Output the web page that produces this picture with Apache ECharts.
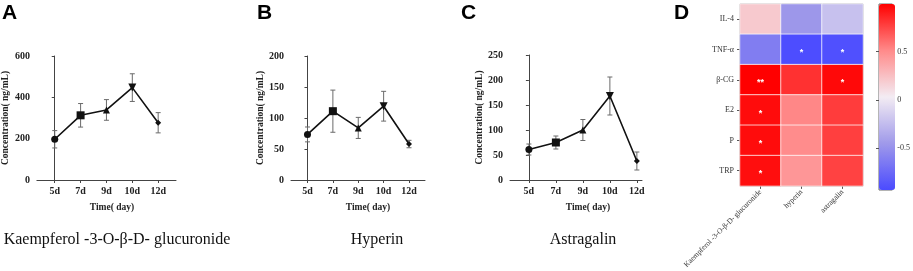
<!DOCTYPE html>
<html>
<head>
<meta charset="utf-8">
<script src="https://cdn.jsdelivr.net/npm/echarts@6/dist/echarts.min.js"></script>
<style>html,body{margin:0;padding:0;background:#fff}#c{width:913px;height:271px}</style>
</head>
<body>
<div id="c"></div>
<script>
// ---------- data ----------
const categories = ['5d', '7d', '9d', '10d', '12d'];
const kaempMean = [197, 313, 339, 447, 277];
const kaempErr  = [42, 57, 50, 67, 49];
const hyperMean = [73.5, 111, 84, 119, 58];
const hyperErr  = [12, 34, 17, 24, 6];
const astraMean = [61, 75, 100, 168, 38];
const astraErr  = [11, 13, 21, 38, 18];
const yTicksA = [0, 600, 200];
const yTicksB = [0, 200, 50];
const yTicksC = [0, 250, 50];
const panelTitles = ['Kaempferol -3-O-β-D- glucuronide', 'Hyperin', 'Astragalin'];

const hmCompounds = ['Kaempferol -3-O-β-D- glucuronide', 'hyperin', 'astragalin'];
const hmIndicators = ['IL-4', 'TNF-α', 'β-CG', 'E2', 'P', 'TRP'];
const hmValues = [
  [0.20, -0.46, -0.22],
  [-0.62, -0.92, -0.90],
  [0.99, 0.82, 0.96],
  [0.95, 0.52, 0.78],
  [0.95, 0.50, 0.77],
  [0.94, 0.45, 0.76]
];
const hmSig = [
  ['', '', ''],
  ['', '*', '*'],
  ['**', '', '*'],
  ['*', '', ''],
  ['*', '', ''],
  ['*', '', '']
];
const cbRange = [-0.93, 0.99];
const cbTicks = [-0.5, 0, 0.5];

// ---------- helpers ----------
const serif = '"Liberation Serif","Times New Roman",serif';
const symbols = ['circle', 'rect', 'triangle', 'triangle', 'diamond'];
const symRot = [0, 0, 0, 180, 0];
const symSize = [7, 8, 7, 8, 6];
const idx = categories.map((_, i) => i);

function errRender(params, api) {
  const x = api.value(0), lo = api.value(1), hi = api.value(2);
  const a = api.coord([x, hi]), b = api.coord([x, lo]);
  const w = 2.5;
  const st = { stroke: '#6a6a6a', lineWidth: 1 };
  return { type: 'group', children: [
    { type: 'line', shape: { x1: a[0], y1: a[1], x2: b[0], y2: b[1] }, style: st },
    { type: 'line', shape: { x1: a[0] - w, y1: a[1], x2: a[0] + w, y2: a[1] }, style: st },
    { type: 'line', shape: { x1: b[0] - w, y1: b[1], x2: b[0] + w, y2: b[1] }, style: st }
  ]};
}

const grids = [
  { left: 33, top: 56, width: 143, height: 124 },
  { left: 291, top: 56, width: 134, height: 124 },
  { left: 510, top: 55, width: 132, height: 125 },
  { left: 740, top: 4, width: 123, height: 186, show: true, borderColor: '#7a7a7a', borderWidth: 1, backgroundColor: 'transparent' },
  { left: 879, top: 4, width: 16, height: 186, show: true, borderColor: '#6a6a6a', borderWidth: 1, backgroundColor: 'transparent' }
];
const xRanges = [[-0.69, 4.69], [-0.65, 4.63], [-0.7, 4.19]];
const namePad = [11, 20, 24];
const yTicks = [yTicksA, yTicksB, yTicksC];
const means = [kaempMean, hyperMean, astraMean];
const errs = [kaempErr, hyperErr, astraErr];

const xAxes = [], yAxes = [], series = [];
for (let p = 0; p < 3; p++) {
  xAxes.push({
    type: 'value', gridIndex: p, min: xRanges[p][0], max: xRanges[p][1],
    splitLine: { show: false },
    axisLine: { lineStyle: { color: '#444', width: 1 } },
    axisTick: { customValues: idx, length: 3, lineStyle: { color: '#444' } },
    axisLabel: { customValues: idx, formatter: v => categories[Math.round(v)], margin: 6,
      fontFamily: serif, fontWeight: 'bold', fontSize: 10, color: '#222' },
    name: 'Time( day)', nameLocation: 'middle', nameGap: 23,
    nameTextStyle: { fontFamily: serif, fontWeight: 'bold', fontSize: 9.5, color: '#222', padding: [0, 0, 0, namePad[p]] }
  });
  yAxes.push({
    type: 'value', gridIndex: p, min: yTicks[p][0], max: yTicks[p][1], interval: yTicks[p][2],
    splitLine: { show: false },
    axisLine: { show: true, lineStyle: { color: '#444', width: 1 } },
    axisTick: { show: true, length: 3, lineStyle: { color: '#444' } },
    axisLabel: { margin: 7, fontFamily: serif, fontWeight: 'bold', fontSize: 10, color: '#222' },
    name: 'Concentration( ng/mL)', nameLocation: 'middle', nameGap: 24, nameRotate: 90,
    nameTextStyle: { fontFamily: serif, fontWeight: 'bold', fontSize: 9.5, color: '#222', padding: [0, 0, 0, 0] }
  });
  series.push({
    type: 'custom', xAxisIndex: p, yAxisIndex: p, renderItem: errRender, z: 2, silent: true,
    data: idx.map(i => [i, means[p][i] - errs[p][i], means[p][i] + errs[p][i]])
  });
  series.push({
    type: 'line', xAxisIndex: p, yAxisIndex: p, z: 3, silent: true,
    lineStyle: { color: '#111', width: 1.6 },
    data: idx.map(i => ({ value: [i, means[p][i]], symbol: symbols[i], symbolRotate: symRot[i], symbolSize: symSize[i] })),
    itemStyle: { color: '#111', borderWidth: 0 }
  });
}

// heatmap axes
xAxes.push({
  type: 'category', gridIndex: 3, data: hmCompounds,
  axisLine: { show: false }, splitLine: { show: false },
  axisTick: { show: true, alignWithLabel: true, length: 3, lineStyle: { color: '#555' } },
  axisLabel: { rotate: 45, margin: 5, fontFamily: serif, fontSize: 7.5, color: '#333' }
});
yAxes.push({
  type: 'category', gridIndex: 3, data: hmIndicators, inverse: true,
  axisLine: { show: false }, splitLine: { show: false },
  axisTick: { show: true, alignWithLabel: true, length: 3, lineStyle: { color: '#555' } },
  axisLabel: { margin: 6, fontFamily: serif, fontSize: 8, color: '#333' }
});
// colorbar axes
xAxes.push({ type: 'value', gridIndex: 4, show: false, min: 0, max: 1 });
yAxes.push({
  type: 'value', gridIndex: 4, position: 'right', min: cbRange[0], max: cbRange[1],
  splitLine: { show: false }, axisLine: { show: false },
  axisTick: { show: true, inside: true, length: 3, customValues: cbTicks, lineStyle: { color: '#555' } },
  axisLabel: { customValues: cbTicks, margin: 5, fontFamily: serif, fontSize: 8, color: '#333',
    formatter: v => String(v) }
});
yAxes.push({
  type: 'value', gridIndex: 4, position: 'left', min: cbRange[0], max: cbRange[1],
  splitLine: { show: false }, axisLine: { show: false },
  axisTick: { show: true, inside: true, length: 3, customValues: cbTicks, lineStyle: { color: '#555' } },
  axisLabel: { show: false }
});

const hmData = [];
hmIndicators.forEach((ind, r) => hmCompounds.forEach((c, k) => hmData.push([k, r, hmValues[r][k], hmSig[r][k]])));
series.push({
  type: 'heatmap', xAxisIndex: 3, yAxisIndex: 3, data: hmData, silent: true,
  itemStyle: { borderColor: 'rgba(255,255,255,0.75)', borderWidth: 1 },
  label: { show: true, formatter: p => p.value[3], color: '#fff', fontSize: 9, fontWeight: 'bold', offset: [0, 3] }
});

const graphics = [
  { type: 'text', x: 2, y: 3, style: { text: 'A', font: 'bold 21px "Liberation Sans",Arial,sans-serif', fill: '#000' } },
  { type: 'text', x: 257, y: 3, style: { text: 'B', font: 'bold 21px "Liberation Sans",Arial,sans-serif', fill: '#000' } },
  { type: 'text', x: 461, y: 3, style: { text: 'C', font: 'bold 21px "Liberation Sans",Arial,sans-serif', fill: '#000' } },
  { type: 'text', x: 674, y: 3, style: { text: 'D', font: 'bold 21px "Liberation Sans",Arial,sans-serif', fill: '#000' } }
];
const capX = [117, 377, 583];
panelTitles.forEach((t, i) => graphics.push({
  type: 'text', x: capX[i], y: 240, style: { text: t, font: '16px "Liberation Serif","Times New Roman",serif', fill: '#111', textAlign: 'center', textVerticalAlign: 'middle' }
}));

const chart = echarts.init(document.getElementById('c'), null, { renderer: 'canvas' });
chart.setOption({
  animation: false,
  backgroundColor: '#fff',
  grid: grids,
  xAxis: xAxes,
  yAxis: yAxes,
  visualMap: {
    type: 'continuous', min: cbRange[0], max: cbRange[1], seriesIndex: 6, dimension: 2,
    left: 879, top: 4, itemWidth: 16, itemHeight: 186, padding: 0,
    calculable: false, showLabel: false, text: null, orient: 'vertical',
    inRange: { color: ['#4b4bff', '#9f99ea', '#f3ecf3', '#ff8a8a', '#ff0000'] }
  },
  series: series,
  graphic: graphics
});
</script>
</body>
</html>
